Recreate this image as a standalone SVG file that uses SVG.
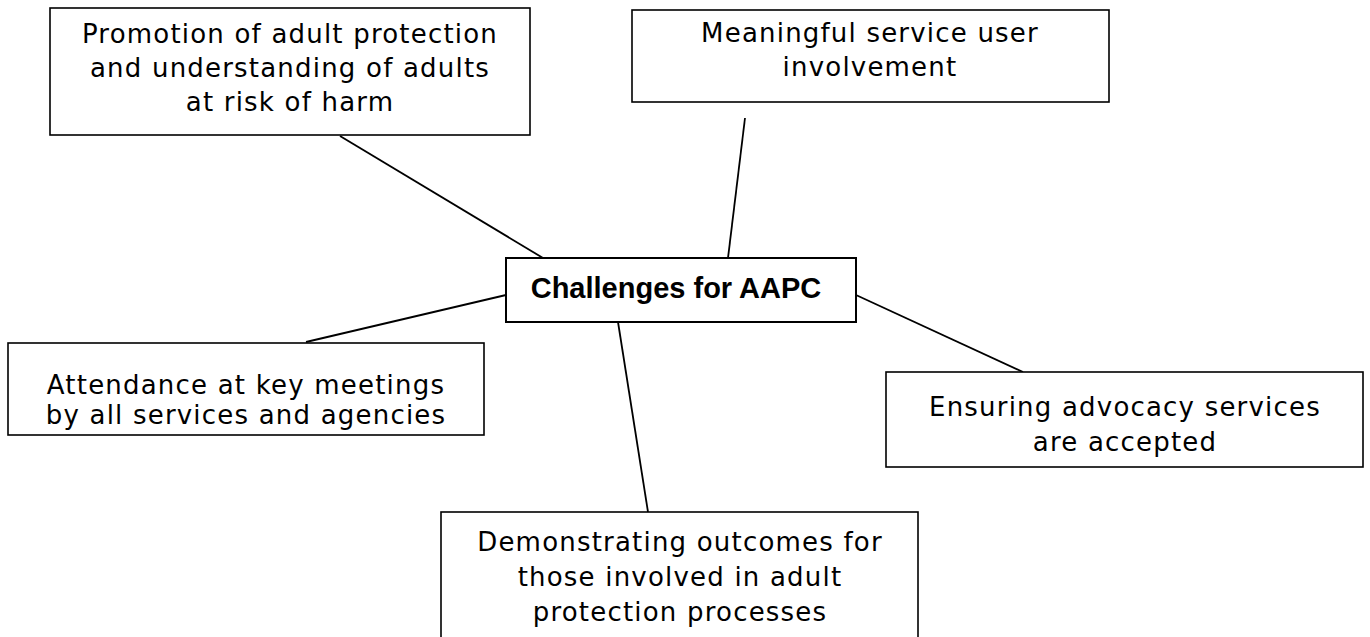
<svg xmlns="http://www.w3.org/2000/svg" width="1370" height="637" viewBox="0 0 1370 637">
<style>
.box{fill:#fff;stroke:#000;stroke-width:1.6}
.t{font-family:"DejaVu Sans",sans-serif;font-size:26px;letter-spacing:1.2px;fill:#000;text-anchor:middle}
.c{font-family:"Liberation Sans",Arial,sans-serif;font-size:29px;font-weight:bold;fill:#000;text-anchor:middle}
.ln{stroke:#000;stroke-width:1.8;fill:none}
</style>
<rect width="1370" height="637" fill="#fff"/>
<g id="connectors">
<line class="ln" x1="340" y1="136" x2="543" y2="258"/>
<line class="ln" x1="745" y1="118" x2="728" y2="258"/>
<line class="ln" x1="506" y1="295" x2="306" y2="342"/>
<line class="ln" x1="856" y1="295" x2="1023" y2="372"/>
<line class="ln" x1="618" y1="322" x2="648" y2="512"/>
</g>
<g id="promotion">
<rect class="box" x="50" y="8" width="480" height="127"/>
<text class="t" x="290" y="43">Promotion of adult protection</text>
<text class="t" x="290" y="77">and understanding of adults</text>
<text class="t" x="290" y="111">at risk of harm</text>
</g>
<g id="meaningful">
<rect class="box" x="632" y="10" width="477" height="92"/>
<text class="t" x="870" y="42">Meaningful service user</text>
<text class="t" x="870" y="76">involvement</text>
</g>
<g id="center">
<rect class="box" x="506" y="258" width="350" height="64" style="stroke-width:2"/>
<text class="c" x="676" y="298">Challenges for AAPC</text>
</g>
<g id="attendance">
<rect class="box" x="8" y="343" width="476" height="92"/>
<text class="t" x="246" y="394">Attendance at key meetings</text>
<text class="t" x="246" y="424">by all services and agencies</text>
</g>
<g id="ensuring">
<rect class="box" x="886" y="372" width="477" height="95"/>
<text class="t" x="1125" y="416">Ensuring advocacy services</text>
<text class="t" x="1125" y="451">are accepted</text>
</g>
<g id="demonstrating">
<rect class="box" x="441" y="512" width="477" height="140"/>
<text class="t" x="680" y="551">Demonstrating outcomes for</text>
<text class="t" x="680" y="586">those involved in adult</text>
<text class="t" x="680" y="621">protection processes</text>
</g>
</svg>
